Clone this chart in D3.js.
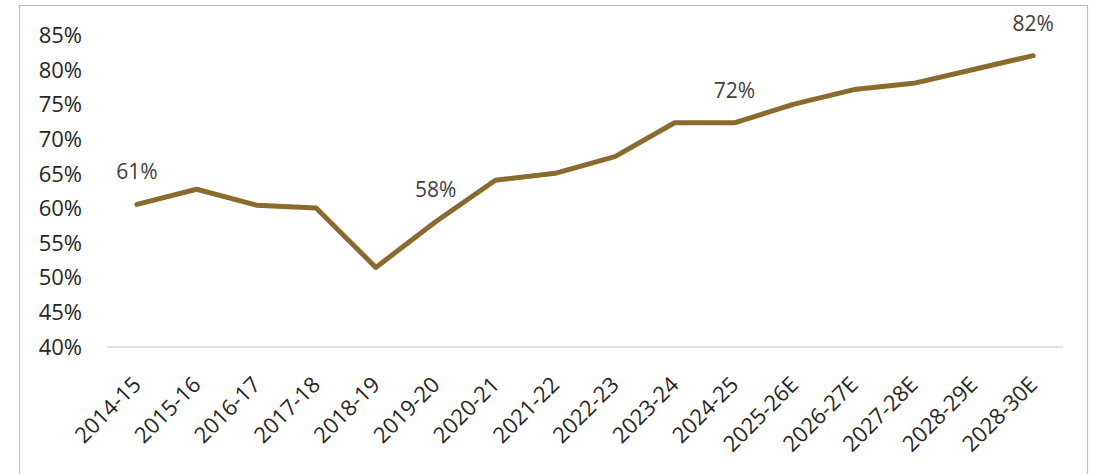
<!DOCTYPE html>
<html>
<head>
<meta charset="utf-8">
<script src="https://cdn.jsdelivr.net/npm/d3@7"></script>
<style>
  html, body { margin: 0; padding: 0; background: #ffffff; }
  svg { display: block; font-family: "Open Sans", "Noto Sans", sans-serif; }
</style>
</head>
<body>
<svg id="chart" width="1094" height="474"></svg>
<script>
// Fiscal years (E = estimate)
const years = ["2014-15", "2015-16", "2016-17", "2017-18", "2018-19", "2019-20", "2020-21",
  "2021-22", "2022-23", "2023-24", "2024-25", "2025-26E", "2026-27E", "2027-28E",
  "2028-29E", "2028-30E"];
// Share in percent
const shares = [60.6, 62.8, 60.5, 60.1, 51.5, 58.1, 64.1, 65.1, 67.5, 72.4, 72.4, 75.1,
  77.2, 78.1, 80.1, 82.1];
// Years whose value is printed above the line
const labelledYears = ["2014-15", "2019-20", "2024-25", "2028-30E"];
// Y axis ticks
const yTicks = [40, 45, 50, 55, 60, 65, 70, 75, 80, 85];

const svg = d3.select("#chart");
const plot = { left: 107, right: 1063, bottom: 347 };

// Outer frame
svg.append("rect")
  .attr("x", 19.5).attr("y", 5.5)
  .attr("width", 1068).attr("height", 480)
  .attr("fill", "#ffffff")
  .attr("stroke", "#bfbfbf").attr("stroke-width", 1.2);

const x = d3.scalePoint().domain(years).range([plot.left, plot.right]).padding(0.5);
const y = d3.scaleLinear().domain([40, 85]).range([plot.bottom, plot.bottom - 9 * 34.6]);

// Y axis labels, no axis line
const yAxis = svg.append("g")
  .attr("transform", `translate(${plot.left},0)`)
  .call(d3.axisLeft(y).tickValues(yTicks).tickFormat(d => d + "%").tickSize(0).tickPadding(25));
yAxis.select(".domain").remove();
yAxis.selectAll("text")
  .attr("font-family", "'Open Sans', sans-serif")
  .attr("font-size", 22)
  .attr("fill", "#262626");

// Baseline
svg.append("line")
  .attr("x1", plot.left).attr("x2", plot.right)
  .attr("y1", y(40)).attr("y2", y(40))
  .attr("stroke", "#d9d9d9").attr("stroke-width", 1.5);

// X axis category labels
const xAxis = svg.append("g")
  .attr("transform", `translate(0,${y(40)})`)
  .call(d3.axisBottom(x).tickSize(0));
xAxis.select(".domain").remove();
xAxis.selectAll("text")
  .attr("font-family", "'Open Sans', sans-serif")
  .attr("font-size", 22)
  .attr("fill", "#262626")
  .attr("text-anchor", "end")
  .attr("dy", null).attr("y", 0)
  .attr("transform", "translate(5,39) rotate(-45)");

// Series line
const data = years.map((yr, i) => ({ yr, v: shares[i] }));
const line = d3.line().x(d => x(d.yr)).y(d => y(d.v));

svg.append("path")
  .datum(data)
  .attr("d", line)
  .attr("fill", "none")
  .attr("stroke", "#8b6a2d")
  .attr("stroke-width", 5)
  .attr("stroke-linejoin", "round")
  .attr("stroke-linecap", "round");

// Value labels
svg.append("g")
  .selectAll("text")
  .data(data.filter(d => labelledYears.includes(d.yr)))
  .join("text")
  .attr("x", d => x(d.yr))
  .attr("y", d => y(d.v) - 25)
  .attr("text-anchor", "middle")
  .attr("font-family", "'Open Sans', sans-serif")
  .attr("font-size", 21)
  .attr("fill", "#404040")
  .text(d => Math.round(d.v) + "%");
</script>
</body>
</html>
